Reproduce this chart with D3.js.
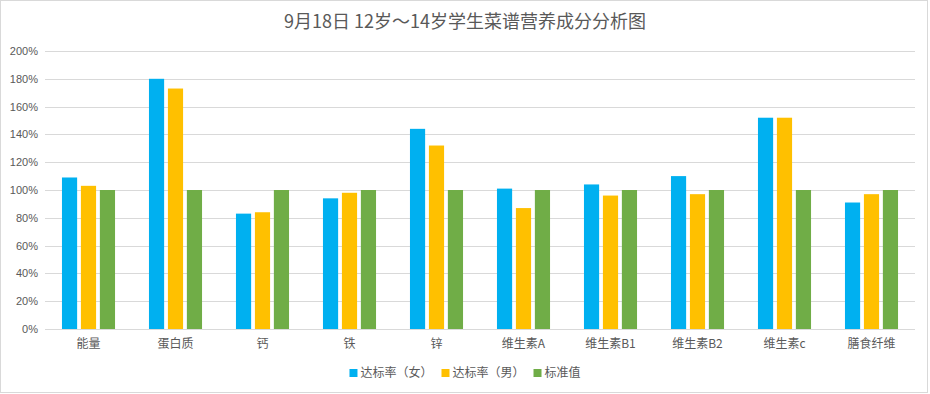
<!DOCTYPE html>
<html>
<head>
<meta charset="utf-8">
<script src="https://cdn.jsdelivr.net/npm/d3@7"></script>
<style>
    body { margin: 0; background: #fff; }
    svg { display: block; font-family: "Noto Sans CJK SC", "Microsoft YaHei", sans-serif; }
</style>
</head>
<body>
<div id="chart"></div>
<script>
// categories and series (percent of standard)
const categories = ["能量", "蛋白质", "钙", "铁", "锌", "维生素A", "维生素B1", "维生素B2", "维生素c", "膳食纤维"];
const seriesNames = ["达标率（女）", "达标率（男）", "标准值"];
const female = [109, 180, 83, 94, 144, 101, 104, 110, 152, 91];
const male = [103, 173, 84, 98, 132, 87, 96, 97, 152, 97];
const standard = [100, 100, 100, 100, 100, 100, 100, 100, 100, 100];
const yTicks = [0, 20, 40, 60, 80, 100, 120, 140, 160, 180, 200];
const colors = ["#00B0F0", "#FFC000", "#70AD47"];

const width = 930, height = 394;
const margin = { top: 51, right: 15, bottom: 65, left: 45 };

const svg = d3.select("#chart")
    .append("svg")
    .attr("width", width)
    .attr("height", height);

// outer border
svg.append("rect")
    .attr("x", 0.5).attr("y", 0.5)
    .attr("width", width - 3).attr("height", height - 2)
    .attr("fill", "#fff")
    .attr("stroke", "#d9d9d9");

svg.append("text")
    .attr("x", 465)
    .attr("y", 28)
    .attr("text-anchor", "middle")
    .attr("fill", "#595959")
    .style("font-size", "18px")
    .text("9月18日 12岁～14岁学生菜谱营养成分分析图");

const x0 = d3.scaleBand()
    .domain(categories)
    .range([margin.left, width - margin.right])
    .paddingInner(0.39)
    .paddingOuter(0.195);

const x1 = d3.scaleBand()
    .domain(seriesNames)
    .range([0, x0.bandwidth()])
    .paddingInner(0.2);

const y = d3.scaleLinear()
    .domain([0, 200])
    .range([height - margin.bottom, margin.top]);

// gridlines
svg.append("g")
    .selectAll("line")
    .data(yTicks)
    .enter()
    .append("line")
    .attr("x1", margin.left)
    .attr("x2", width - margin.right)
    .attr("y1", d => Math.round(y(d)) + 0.5)
    .attr("y2", d => Math.round(y(d)) + 0.5)
    .attr("stroke", "#d9d9d9");

// y axis labels
const yAxis = svg.append("g")
    .attr("transform", `translate(${margin.left},0)`)
    .call(d3.axisLeft(y).tickValues(yTicks).tickSize(0).tickPadding(7).tickFormat(d => d + "%"));
yAxis.select(".domain").remove();
yAxis.selectAll("text")
    .attr("fill", "#595959")
    .style("font-size", "11px")
    .style("font-family", "Liberation Sans, Arial, sans-serif");

// bars
const rows = categories.map((c, i) => ({ cat: c, values: [female[i], male[i], standard[i]] }));

const groups = svg.append("g")
    .selectAll("g")
    .data(rows)
    .enter()
    .append("g")
    .attr("transform", d => `translate(${x0(d.cat)},0)`);

groups.selectAll("rect")
    .data(d => d.values.map((v, k) => ({ name: seriesNames[k], value: v, k: k })))
    .enter()
    .append("rect")
    .attr("x", d => x1(d.name))
    .attr("y", d => y(d.value))
    .attr("width", x1.bandwidth())
    .attr("height", d => y(0) - y(d.value))
    .attr("fill", d => colors[d.k]);

// x axis labels
const xAxis = svg.append("g")
    .attr("transform", `translate(0,${height - margin.bottom})`)
    .call(d3.axisBottom(x0).tickSize(0).tickPadding(10));
xAxis.select(".domain").remove();
xAxis.selectAll("text")
    .attr("fill", "#595959")
    .style("font-size", "12px")
    .style("font-family", "Noto Sans CJK SC, sans-serif");

// legend, centred under the plot
const legend = svg.append("g");
let lx = 0;
seriesNames.forEach((name, i) => {
    const item = legend.append("g").attr("transform", `translate(${lx},0)`);
    item.append("rect")
        .attr("x", 0).attr("y", -4)
        .attr("width", 8).attr("height", 8)
        .attr("fill", colors[i]);
    const t = item.append("text")
        .attr("x", 11)
        .attr("y", 0)
        .attr("dy", "0.35em")
        .attr("fill", "#595959")
        .style("font-size", "12px")
        .text(name);
    lx += 11 + t.node().getComputedTextLength() + 9;
});
legend.attr("transform", `translate(${465 - (lx - 9) / 2},373)`);
</script>
</body>
</html>
